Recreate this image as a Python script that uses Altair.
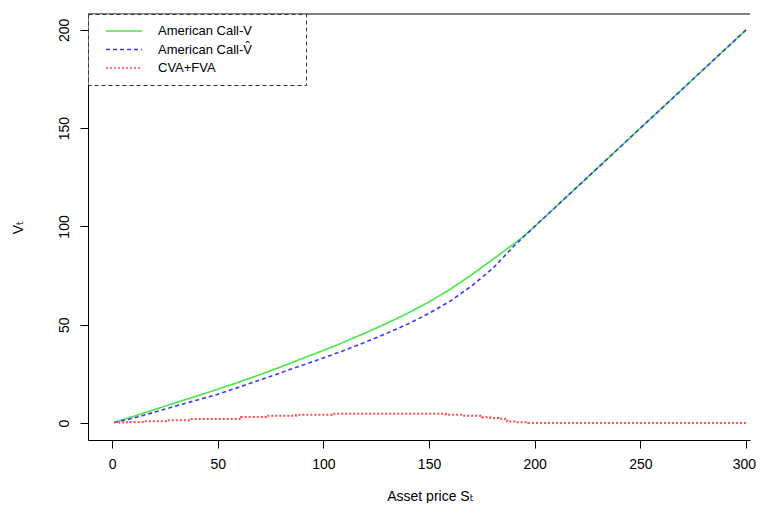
import altair as alt
import pandas as pd

# ---- data ----
SERIES = ["American Call-V", "American Call-V\u0302", "CVA+FVA"]

S_GRID = [1, 10, 20, 30, 40, 50, 60, 70, 80, 90, 100, 110, 120, 130, 140,
          150, 160, 170, 180, 190, 195, 200, 300]
AMERICAN_V = [0.3, 3.3, 6.8, 10.3, 13.7, 17.2, 20.8, 24.6, 28.6, 32.8, 36.9,
              41.3, 45.9, 50.7, 55.9, 61.6, 68.0, 75.3, 83.1, 91.0, 95.2, 100.0, 200.0]
AMERICAN_VHAT = [0.3, 2.4, 5.5, 8.6, 11.6, 14.6, 18.2, 21.9, 25.6, 29.4, 33.1,
                 37.0, 41.2, 45.6, 50.4, 55.8, 62.0, 69.6, 78.5, 89.8, 95.0, 100.0, 200.0]

RED_S = [1, 7, 15, 26, 37, 61, 73, 87, 104, 158, 166, 175, 179, 183, 186,
         187, 191, 197, 300]
RED_V = [0.2, 0.5, 0.9, 1.4, 2.0, 3.0, 3.7, 4.2, 4.75, 4.2, 3.7, 2.9, 2.6,
         2.2, 1.9, 0.7, 0.35, 0.0, 0.0]

X_TICKS = [0, 50, 100, 150, 200, 250, 300]
Y_TICKS = [0, 50, 100, 150, 200]

# ---- tables ----
curves = pd.concat([
    pd.DataFrame({"S": S_GRID, "V": AMERICAN_V, "series": SERIES[0]}),
    pd.DataFrame({"S": S_GRID, "V": AMERICAN_VHAT, "series": SERIES[1]}),
], ignore_index=True)
red = pd.DataFrame({"S": RED_S, "V": RED_V, "series": SERIES[2]})

W, H = 662, 426
FONT = "Liberation Sans, Arial, DejaVu Sans"

color_scale = alt.Scale(domain=SERIES, range=["#45e845", "#3a3aff", "#ff4a4a"])
dash_scale = alt.Scale(domain=SERIES, range=[[1, 0], [4, 3], [2, 2]])

pad = "\u00a0" * 12 + "\u200b"
legend = alt.Legend(title=None, labelExpr="datum.label + '" + pad + "'")

x_enc = alt.X(
    "S:Q",
    scale=alt.Scale(domain=[-11.4, 301.9], nice=False, zero=False),
    axis=alt.Axis(values=X_TICKS, title="Asset price S\u209c", titleX=342,
                  titleY=56, titleAlign="center", titleBaseline="middle",
                  labelPadding=9, labelFlush=5, labelFlushOffset=9.5),
)
y_enc = alt.Y(
    "V:Q",
    scale=alt.Scale(domain=[-8.65, 208.1], nice=False, zero=False),
    axis=alt.Axis(values=Y_TICKS, title="V\u209c", titleX=-70, titleY=213,
                  titleAngle=-90, titleAlign="center", titleBaseline="middle",
                  labelAngle=-90, labelAlign="center", labelBaseline="bottom",
                  labelPadding=9),
)
color_enc = alt.Color("series:N", scale=color_scale, legend=legend, sort=SERIES)
dash_enc = alt.StrokeDash("series:N", scale=dash_scale, legend=legend, sort=SERIES)

lines = alt.Chart(curves).mark_line(strokeWidth=1.6, clip=True).encode(
    x=x_enc, y=y_enc, color=color_enc, strokeDash=dash_enc,
    detail="series:N",
)
cva = alt.Chart(red).mark_line(strokeWidth=2, interpolate="step-after",
                               clip=True).encode(
    x=x_enc, y=y_enc, color=color_enc, strokeDash=dash_enc,
)
top_rule = alt.Chart(pd.DataFrame({"k": [0]})).mark_rule(
    color="black", strokeWidth=1
).encode(x=alt.value(0), x2=alt.value(W), y=alt.value(0))

chart = alt.layer(top_rule, lines, cva).properties(
    width=W, height=H,
    autosize=alt.AutoSizeParams(type="none"),
    padding={"left": 80, "top": 6, "right": 6, "bottom": 63},
).configure_view(stroke=None).configure_axis(
    domain=True, domainColor="black", domainWidth=1,
    tickColor="black", tickSize=8, tickWidth=1,
    labelFont=FONT, labelFontSize=14, labelColor="black",
    titleFont=FONT, titleFontSize=14, titleColor="black", titleFontWeight="normal",
    grid=False,
).configure_legend(
    orient="top-left", offset=0, padding=10,
    strokeColor="#333333", strokeDash=[4, 3],
    fillColor="white",
    symbolType="M-3,0L3,0", symbolSize=144, symbolStrokeWidth=1.5,
    symbolOffset=19, labelOffset=27,
    labelFont=FONT, labelFontSize=13, labelColor="black",
    rowPadding=4.5, labelLimit=400,
)

chart.save("out.html", embed_options={"renderer": "svg", "actions": False})
